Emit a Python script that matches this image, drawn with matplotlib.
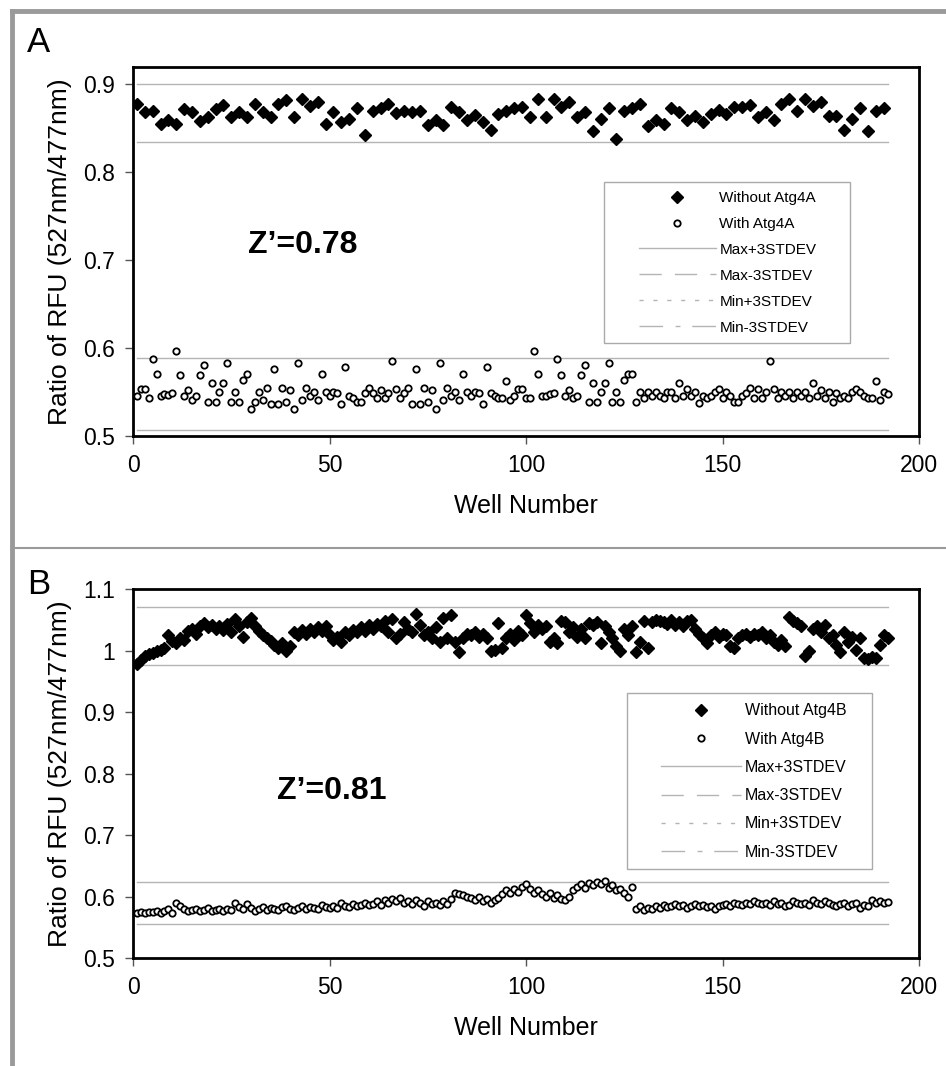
import matplotlib
matplotlib.use("Agg")
import matplotlib.pyplot as plt
import numpy as np
from matplotlib.lines import Line2D
from matplotlib.patches import Rectangle

plt.rcParams["font.family"] = ["Liberation Sans", "DejaVu Sans"]

# ---- panel A (Atg4A) ----
a_without = [
    0.878, 0.868, 0.870, 0.855, 0.859, 0.855, 0.872, 0.869, 0.858, 0.863,
    0.872, 0.876, 0.863, 0.869, 0.863, 0.878, 0.869, 0.863, 0.878, 0.882,
    0.863, 0.883, 0.875, 0.880, 0.855, 0.869, 0.857, 0.861, 0.873, 0.842,
    0.870, 0.873, 0.878, 0.867, 0.870, 0.868, 0.870, 0.854, 0.859, 0.854,
    0.874, 0.869, 0.859, 0.865, 0.857, 0.848, 0.866, 0.870, 0.873, 0.874,
    0.863, 0.883, 0.863, 0.883, 0.874, 0.880, 0.863, 0.869, 0.847, 0.861,
    0.873, 0.838, 0.870, 0.873, 0.878, 0.853, 0.859, 0.855, 0.873, 0.869,
    0.859, 0.864, 0.857, 0.866, 0.871, 0.866, 0.874, 0.874, 0.876, 0.863,
    0.869, 0.859, 0.878, 0.883, 0.870, 0.883, 0.875, 0.880, 0.864, 0.864,
    0.848, 0.861, 0.873, 0.847, 0.870, 0.873,
]
a_with = [
    0.545, 0.553, 0.553, 0.543, 0.588, 0.571, 0.545, 0.548, 0.547, 0.549,
    0.597, 0.569, 0.545, 0.552, 0.541, 0.545, 0.569, 0.581, 0.539, 0.560,
    0.539, 0.550, 0.560, 0.583, 0.539, 0.550, 0.539, 0.564, 0.571, 0.531,
    0.539, 0.550, 0.541, 0.555, 0.536, 0.576, 0.536, 0.555, 0.539, 0.552,
    0.531, 0.583, 0.541, 0.555, 0.545, 0.550, 0.541, 0.571, 0.550, 0.545,
    0.550, 0.549, 0.536, 0.578, 0.545, 0.543, 0.539, 0.539, 0.549, 0.555,
    0.549, 0.543, 0.552, 0.543, 0.549, 0.585, 0.553, 0.543, 0.549, 0.555,
    0.536, 0.576, 0.536, 0.555, 0.539, 0.552, 0.531, 0.583, 0.541, 0.555,
    0.545, 0.550, 0.541, 0.571, 0.550, 0.545, 0.550, 0.549, 0.536, 0.578,
    0.549, 0.545, 0.543, 0.543, 0.562, 0.541, 0.545, 0.553, 0.553, 0.543,
    0.543, 0.597, 0.571, 0.545, 0.545, 0.548, 0.549, 0.588, 0.569, 0.545,
    0.552, 0.543, 0.545, 0.569, 0.581, 0.539, 0.560, 0.539, 0.550, 0.560,
    0.583, 0.539, 0.550, 0.539, 0.564, 0.571, 0.571, 0.539, 0.550, 0.543,
    0.550, 0.545, 0.550, 0.545, 0.543, 0.550, 0.550, 0.543, 0.560, 0.545,
    0.553, 0.545, 0.550, 0.538, 0.545, 0.543, 0.545, 0.550, 0.553, 0.543,
    0.550, 0.545, 0.539, 0.539, 0.545, 0.549, 0.555, 0.543, 0.553, 0.543,
    0.550, 0.585, 0.553, 0.543, 0.550, 0.545, 0.550, 0.543, 0.550, 0.545,
    0.550, 0.543, 0.560, 0.545, 0.552, 0.543, 0.550, 0.539, 0.549, 0.543,
    0.545, 0.543, 0.550, 0.553, 0.550, 0.545, 0.543, 0.543, 0.562, 0.541,
    0.550, 0.548,
]
a_limits = [0.900, 0.834, 0.589, 0.507]  # max+3sd, max-3sd, min+3sd, min-3sd

# ---- panel B (Atg4B) ----
b_without = [
    0.979, 0.985, 0.991, 0.994, 0.997, 1.000, 1.002, 1.004, 1.026, 1.016,
    1.012, 1.020, 1.018, 1.032, 1.036, 1.028, 1.040, 1.045, 1.038, 1.042,
    1.036, 1.040, 1.034, 1.043, 1.030, 1.052, 1.041, 1.022, 1.046, 1.054,
    1.040, 1.032, 1.025, 1.020, 1.016, 1.010, 1.004, 1.012, 1.000, 1.008,
    1.030, 1.025, 1.034, 1.028, 1.036, 1.030, 1.038, 1.032, 1.040, 1.026,
    1.018, 1.022, 1.015, 1.030, 1.026, 1.034, 1.030, 1.038, 1.032, 1.042,
    1.036, 1.044, 1.040, 1.048, 1.030, 1.052, 1.020, 1.028, 1.046, 1.035,
    1.030, 1.060, 1.042, 1.025, 1.030, 1.020, 1.038, 1.015, 1.054, 1.020,
    1.058, 1.015, 0.998, 1.020, 1.028, 1.025, 1.030, 1.022, 1.028, 1.020,
    1.000, 1.002, 1.045, 1.005, 1.020, 1.028, 1.018, 1.032, 1.025, 1.058,
    1.045, 1.030, 1.042, 1.036, 1.040, 1.015, 1.020, 1.013, 1.048, 1.046,
    1.030, 1.038, 1.022, 1.035, 1.020, 1.045, 1.042, 1.046, 1.012, 1.040,
    1.030, 1.020, 1.008, 1.000, 1.035, 1.025, 1.040, 0.998, 1.015, 1.048,
    1.005, 1.046, 1.050, 1.048, 1.046, 1.044, 1.050, 1.042, 1.046, 1.040,
    1.048, 1.050, 1.036, 1.028, 1.020, 1.012, 1.025, 1.030, 1.022, 1.028,
    1.025, 1.008, 1.004, 1.020, 1.025, 1.028, 1.022, 1.028, 1.025, 1.030,
    1.020, 1.025, 1.015, 1.010, 1.018, 1.008, 1.055, 1.048, 1.045, 1.040,
    0.992, 1.000, 1.035, 1.040, 1.030, 1.042, 1.020, 1.025, 1.010, 0.998,
    1.030, 1.015, 1.022, 1.002, 1.020, 0.988, 0.986, 0.990, 0.988, 1.010,
    1.025, 1.020,
]
b_with = [
    0.574, 0.575, 0.574, 0.575, 0.575, 0.576, 0.574, 0.577, 0.580, 0.574,
    0.590, 0.584, 0.580, 0.576, 0.578, 0.580, 0.576, 0.578, 0.581, 0.576,
    0.578, 0.580, 0.576, 0.580, 0.578, 0.590, 0.583, 0.579, 0.588, 0.582,
    0.576, 0.580, 0.583, 0.578, 0.582, 0.580, 0.578, 0.583, 0.584, 0.580,
    0.578, 0.582, 0.585, 0.580, 0.583, 0.581, 0.580, 0.586, 0.583, 0.582,
    0.585, 0.582, 0.590, 0.584, 0.583, 0.588, 0.585, 0.586, 0.590, 0.587,
    0.588, 0.592, 0.586, 0.594, 0.590, 0.596, 0.592, 0.598, 0.590, 0.592,
    0.588, 0.594, 0.590, 0.585, 0.592, 0.588, 0.590, 0.586, 0.592, 0.588,
    0.596, 0.606, 0.604, 0.602, 0.600, 0.598, 0.594, 0.600, 0.592, 0.596,
    0.590, 0.594, 0.598, 0.604, 0.610, 0.606, 0.612, 0.608, 0.616, 0.620,
    0.612, 0.606, 0.610, 0.604, 0.600, 0.606, 0.598, 0.602, 0.596, 0.594,
    0.600, 0.610, 0.616, 0.620, 0.614, 0.622, 0.618, 0.624, 0.620, 0.626,
    0.614, 0.618, 0.610, 0.612, 0.606, 0.600, 0.616, 0.580, 0.584, 0.578,
    0.582, 0.580, 0.585, 0.582, 0.586, 0.583, 0.585, 0.588, 0.584, 0.586,
    0.582, 0.585, 0.588, 0.584, 0.586, 0.583, 0.585, 0.580, 0.584, 0.586,
    0.588, 0.585, 0.590, 0.588, 0.586, 0.590, 0.588, 0.592, 0.590, 0.588,
    0.590, 0.586, 0.592, 0.588, 0.590, 0.584, 0.586, 0.592, 0.590, 0.588,
    0.590, 0.586, 0.594, 0.590, 0.588, 0.592, 0.590, 0.586, 0.584, 0.588,
    0.590, 0.585, 0.588, 0.590, 0.582, 0.586, 0.584, 0.594, 0.590, 0.592,
    0.590, 0.591,
]
b_limits = [1.071, 0.977, 0.623, 0.555]

limit_labels = ["Max+3STDEV", "Max-3STDEV", "Min+3STDEV", "Min-3STDEV"]
# Excel-style dash patterns used only for the legend swatches
limit_dashes = [None, (16, 9.5), (3, 7), (17, 9, 3.5, 8.5)]
GRID_GREY = "#b4b4b4"
PX = 1 / 100
AX_LEFT, AX_WIDTH = 133, 786  # pixels


def draw_panel(ax, x_without, without, x_with, with_, limits, yticks, ylim,
               zprime, zpos, names, legend_box, legend_anchor, legend_size,
               legend_spacing):
    x_lo = min(x_without[0], x_with[0])
    x_hi = max(x_without[-1], x_with[-1])
    for value in limits:
        ax.plot([x_lo, x_hi], [value, value], color=GRID_GREY, lw=1.0, zorder=1)
    ax.plot(x_without, without, ls="none", marker="D", ms=6.2, color="black",
            zorder=3)
    ax.plot(x_with, with_, ls="none", marker="o", ms=4.6, mfc="white",
            mec="black", mew=1.3, zorder=3)

    ax.set_xlim(0, 200)
    ax.set_ylim(*ylim)
    ax.set_xticks([0, 50, 100, 150, 200])
    ax.set_yticks(yticks)
    ax.set_yticklabels([f"{t:g}" for t in yticks])
    ax.tick_params(direction="out", length=6, width=1, color="#555555",
                   labelsize=16.5, pad=7)
    for spine in ax.spines.values():
        spine.set_linewidth(2.0)
        spine.set_color("black")
    ax.set_xlabel("Well Number", fontsize=18, labelpad=12)
    ax.set_ylabel("Ratio of RFU (527nm/477nm)", fontsize=19, labelpad=8)
    ax.text(zpos[0], zpos[1], f"Z\u2019={zprime}", transform=ax.transAxes,
            fontsize=23, fontweight="bold", ha="left", va="center")

    # legend frame drawn separately so the padding matches the original
    bx, by, bw, bh = legend_box
    ax.add_patch(Rectangle((bx, by), bw, bh, transform=ax.transAxes,
                           facecolor="white", edgecolor="#aaaaaa", lw=1.0,
                           zorder=4))
    handles = [
        Line2D([], [], ls="none", marker="D", ms=6.2, color="black"),
        Line2D([], [], ls="none", marker="o", ms=4.6, mfc="white", mec="black",
               mew=1.3),
    ]
    for dash in limit_dashes:
        line = Line2D([], [], color=GRID_GREY, lw=1.0)
        if dash is not None:
            line.set_dashes(dash)
        handles.append(line)
    leg = ax.legend(handles, names + limit_labels, loc="upper left",
                    bbox_to_anchor=legend_anchor, frameon=False,
                    fontsize=legend_size, handlelength=5.0,
                    handletextpad=0.25, labelspacing=legend_spacing,
                    borderpad=0.4, borderaxespad=0)
    leg.set_zorder(5)


def fx(px):
    """Horizontal pixel position -> axes fraction."""
    return (px - AX_LEFT) / AX_WIDTH


fig = plt.figure(figsize=(946 * PX, 1066 * PX), dpi=100)

ax_a = fig.add_axes([AX_LEFT / 946, 1 - 436 / 1066, AX_WIDTH / 946, 369.3 / 1066])
draw_panel(ax_a, np.arange(1, 2 * len(a_without), 2), a_without,
           np.arange(1, len(a_with) + 1), a_with, a_limits,
           [0.5, 0.6, 0.7, 0.8, 0.9], (0.5, 0.92), "0.78", (fx(248), 0.517),
           ["Without Atg4A", "With Atg4A"],
           (fx(604), 0.252, 246 / AX_WIDTH, 0.436), (fx(633), 0.680), 11, 0.78)

ax_b = fig.add_axes([AX_LEFT / 946, 1 - 958 / 1066, AX_WIDTH / 946, 368.7 / 1066])
draw_panel(ax_b, np.arange(1, len(b_without) + 1), b_without,
           np.arange(1, len(b_with) + 1), b_with, b_limits,
           [0.5, 0.6, 0.7, 0.8, 0.9, 1.0, 1.1], (0.5, 1.1), "0.81",
           (fx(277), 0.452), ["Without Atg4B", "With Atg4B"],
           (fx(627), 0.241, 245 / AX_WIDTH, 0.478), (fx(655), 0.708), 11.5, 0.83)

# panel letters and the grey page frame
fig.text(27 / 946, 1 - 42 / 1066, "A", fontsize=25, va="center", ha="left")
fig.text(27 / 946, 1 - 585 / 1066, "B", fontsize=25, va="center", ha="left")
frame_kw = dict(color="#9a9a9a", lw=3.5, transform=fig.transFigure)
fig.add_artist(Line2D([12 / 946, 1], [1 - 11 / 1066, 1 - 11 / 1066], **frame_kw))
fig.add_artist(Line2D([12 / 946, 12 / 946], [0, 1 - 11 / 1066], **frame_kw))
fig.add_artist(Line2D([12 / 946, 1], [1 - 548 / 1066, 1 - 548 / 1066],
                      color="#9a9a9a", lw=1.5, transform=fig.transFigure))

fig.savefig("out.png", dpi=100)
